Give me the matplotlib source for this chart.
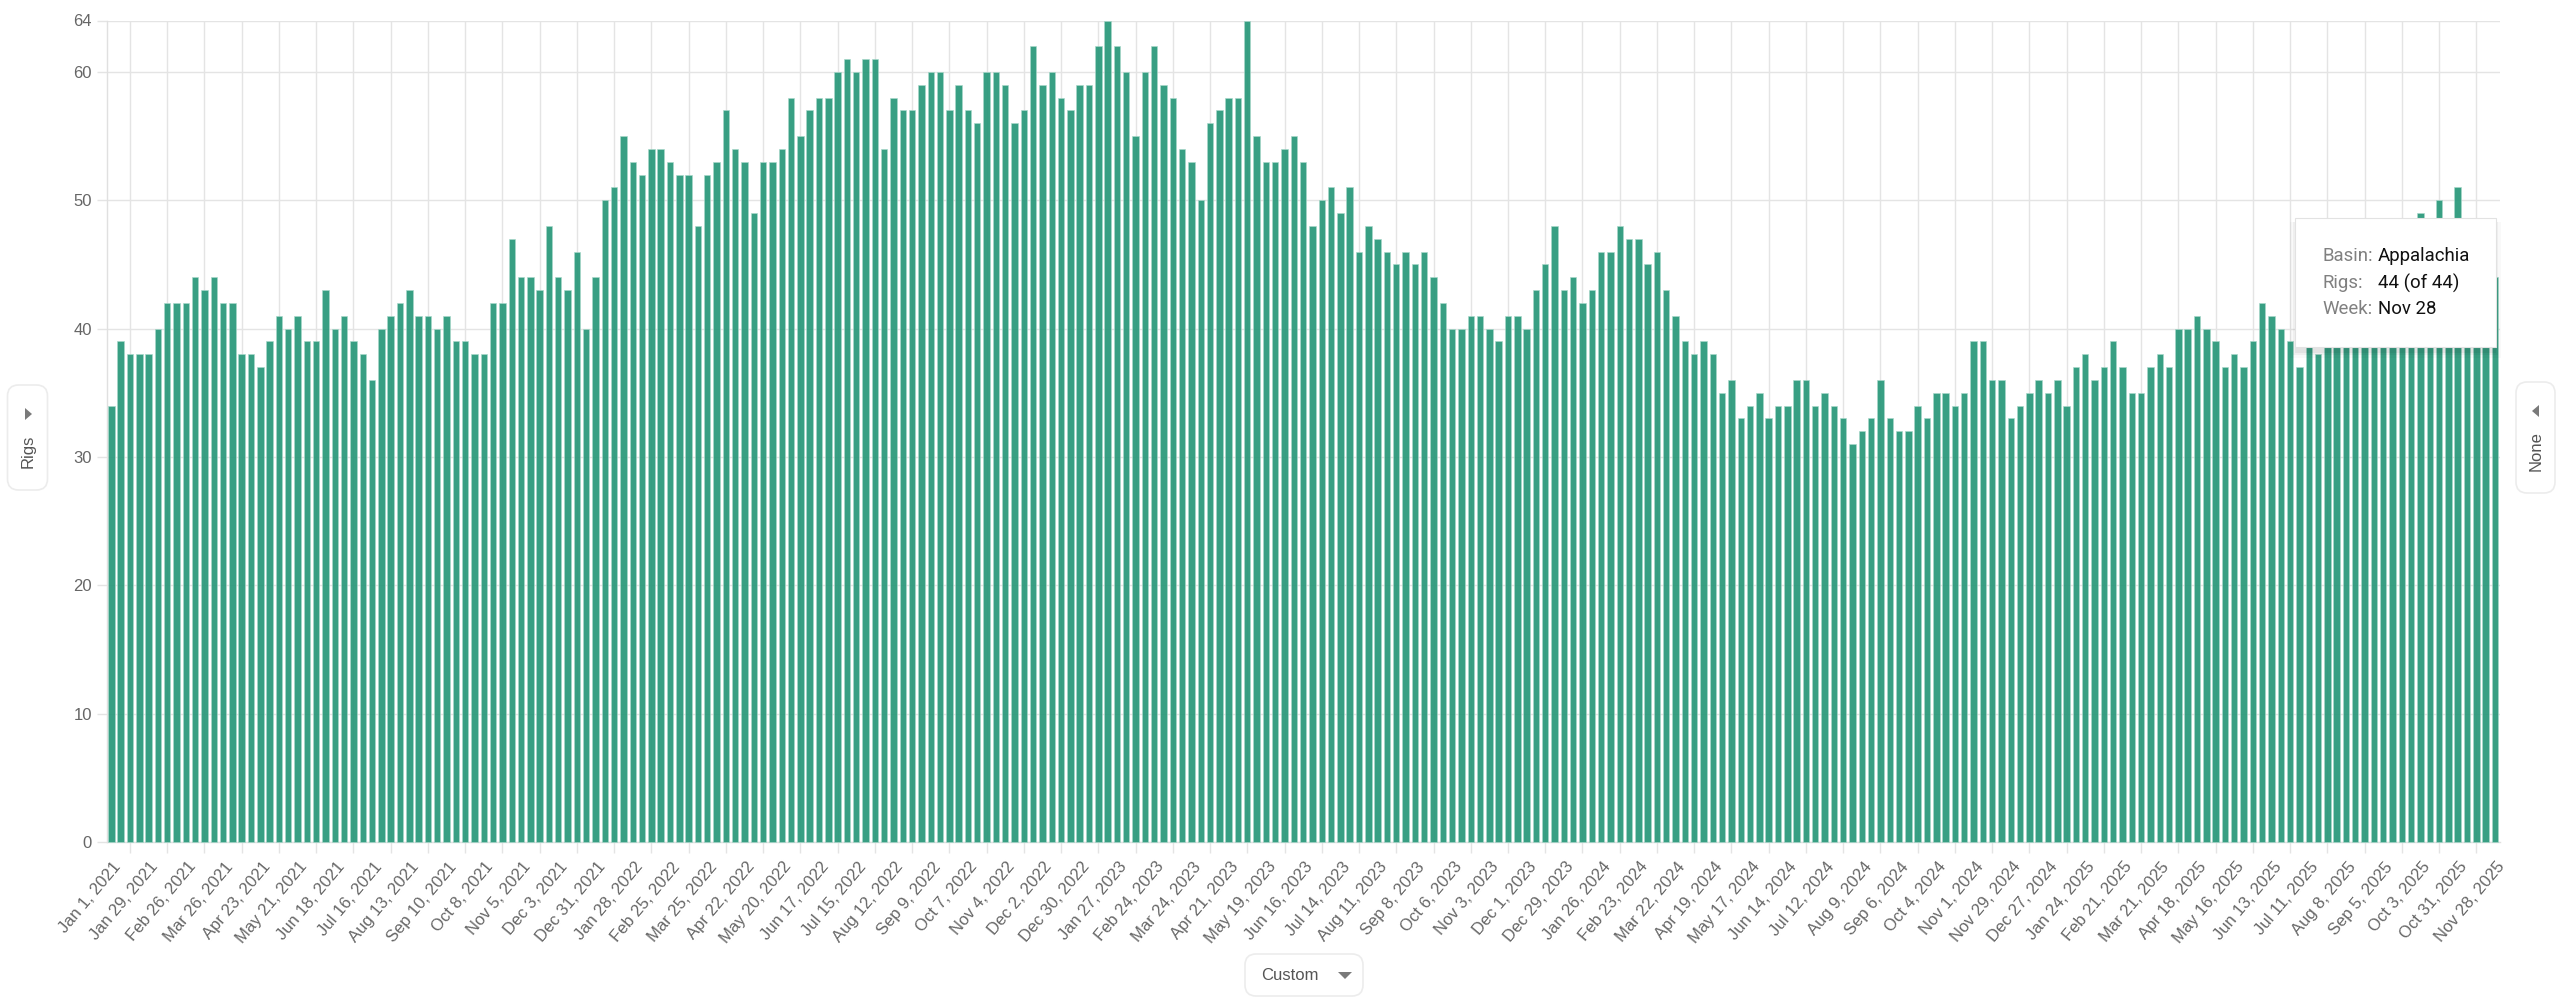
"""
Appalachia rig count by week, Jan 2021 - Nov 2025
"""
import matplotlib
matplotlib.use("Agg")
import matplotlib.pyplot as plt
from matplotlib.patches import FancyBboxPatch, Polygon, Rectangle
from matplotlib.transforms import ScaledTranslation

# weekly rigs (tops hidden by the tooltip are estimates)
rigs_2021 = [34, 39, 38, 38, 38, 40, 42, 42, 42, 44, 43, 44, 42, 42, 38, 38, 37, 39,
             41, 40, 41, 39, 39, 43, 40, 41, 39, 38, 36, 40, 41, 42, 43, 41, 41, 40,
             41, 39, 39, 38, 38, 42, 42, 47, 44, 44, 43, 48, 44, 43, 46, 40]
rigs_2022 = [44, 50, 51, 55, 53, 52, 54, 54, 53, 52, 52, 48, 52, 53, 57, 54, 53, 49,
             53, 53, 54, 58, 55, 57, 58, 58, 60, 61, 60, 61, 61, 54, 58, 57, 57, 59,
             60, 60, 57, 59, 57, 56, 60, 60, 59, 56, 57, 62, 59, 60, 58, 57, 59]
rigs_2023 = [59, 62, 64, 62, 60, 55, 60, 62, 59, 58, 54, 53, 50, 56, 57, 58, 58, 64,
             55, 53, 53, 54, 55, 53, 48, 50, 51, 49, 51, 46, 48, 47, 46, 45, 46, 45,
             46, 44, 42, 40, 40, 41, 41, 40, 39, 41, 41, 40, 43, 45, 48, 43]
rigs_2024 = [44, 42, 43, 46, 46, 48, 47, 47, 45, 46, 43, 41, 39, 38, 39, 38, 35, 36,
             33, 34, 35, 33, 34, 34, 36, 36, 34, 35, 34, 33, 31, 32, 33, 36, 33, 32,
             32, 34, 33, 35, 35, 34, 35, 39, 39, 36, 36, 33, 34, 35, 36, 35, 36]
rigs_2025 = [34, 37, 38, 36, 37, 39, 37, 35, 35, 37, 38, 37, 40, 40, 41, 40, 39, 37,
             38, 37, 39, 42, 41, 40, 39, 37, 39, 38, 40, 41, 42, 43, 44, 44, 45, 46,
             47, 48, 49, 47, 50, 47, 51, 47, 46, 45, 44]
rigs = rigs_2021 + rigs_2022 + rigs_2023 + rigs_2024 + rigs_2025

week_labels = [
    "Jan 1, 2021", "Jan 29, 2021", "Feb 26, 2021", "Mar 26, 2021", "Apr 23, 2021",
    "May 21, 2021", "Jun 18, 2021", "Jul 16, 2021", "Aug 13, 2021", "Sep 10, 2021",
    "Oct 8, 2021", "Nov 5, 2021", "Dec 3, 2021", "Dec 31, 2021", "Jan 28, 2022",
    "Feb 25, 2022", "Mar 25, 2022", "Apr 22, 2022", "May 20, 2022", "Jun 17, 2022",
    "Jul 15, 2022", "Aug 12, 2022", "Sep 9, 2022", "Oct 7, 2022", "Nov 4, 2022",
    "Dec 2, 2022", "Dec 30, 2022", "Jan 27, 2023", "Feb 24, 2023", "Mar 24, 2023",
    "Apr 21, 2023", "May 19, 2023", "Jun 16, 2023", "Jul 14, 2023", "Aug 11, 2023",
    "Sep 8, 2023", "Oct 6, 2023", "Nov 3, 2023", "Dec 1, 2023", "Dec 29, 2023",
    "Jan 26, 2024", "Feb 23, 2024", "Mar 22, 2024", "Apr 19, 2024", "May 17, 2024",
    "Jun 14, 2024", "Jul 12, 2024", "Aug 9, 2024", "Sep 6, 2024", "Oct 4, 2024",
    "Nov 1, 2024", "Nov 29, 2024", "Dec 27, 2024", "Jan 24, 2025", "Feb 21, 2025",
    "Mar 21, 2025", "Apr 18, 2025", "May 16, 2025", "Jun 13, 2025", "Jul 11, 2025",
    "Aug 8, 2025", "Sep 5, 2025", "Oct 3, 2025", "Oct 31, 2025", "Nov 28, 2025",
]
y_ticks = [0, 10, 20, 30, 40, 50, 60, 64]

W, H = 2560, 1001
GRID = "#e4e4e4"
TICK_TEXT = "#666666"

plt.rcParams["font.family"] = ["Liberation Sans", "DejaVu Sans"]

fig = plt.figure(figsize=(W / 100, H / 100), dpi=100, facecolor="white")
ax = fig.add_axes([106.7 / W, 1 - 842 / H, (2499.6 - 106.7) / W, (842 - 20.5) / H])

# ── Bars ─────────────────────────────────────────────────────────────────────
x = list(range(len(rigs)))
ax.bar(x, rigs, width=0.69, color="#29987a", alpha=0.93, edgecolor="#a8d8ca",
       linewidth=0.5, zorder=3, clip_on=False)
ax.set_xlim(-0.5, len(rigs) - 0.5)
ax.set_ylim(0, 64)

# ── Axes: date labels sit on the bars, ticks and grid between them ───────────
ax.set_yticks(y_ticks)
ax.set_xticks(range(0, len(rigs), 4), week_labels, rotation=50, ha="right",
              va="center", rotation_mode="anchor", fontsize=12, color=TICK_TEXT)
ax.set_xticks(range(2, len(rigs), 4), minor=True)
ax.tick_params(axis="x", which="major", length=0, pad=0)
ax.tick_params(axis="x", which="minor", length=8, width=1.0, color=GRID)
ax.tick_params(axis="y", length=7.5, width=1.0, color=GRID, labelsize=12,
               labelcolor=TICK_TEXT, pad=3)
# tick_params resets label transforms, so shift the labels after it
offset = ScaledTranslation(7 / 100, -22 / 100, fig.dpi_scale_trans)
for lab in ax.get_xticklabels():
    lab.set_transform(lab.get_transform() + offset)
ax.grid(True, axis="y", color=GRID, lw=1.0, zorder=1)
ax.grid(True, axis="x", which="minor", color=GRID, lw=1.0, zorder=1)
ax.set_axisbelow(True)
for side in ["top", "right"]:
    ax.spines[side].set_visible(False)
for side in ["left", "bottom"]:
    ax.spines[side].set_color("#e0e0e0")
    ax.spines[side].set_linewidth(1.0)

# ── Overlay in pixel coordinates: tooltip and the three axis buttons ─────────
ov = fig.add_axes([0, 0, 1, 1], zorder=5)
ov.set_xlim(0, W)
ov.set_ylim(H, 0)
ov.axis("off")


def pill(x0, y0, x1, y1, radius=11):
    ov.add_patch(FancyBboxPatch((x0 + radius, y0 + radius), x1 - x0 - 2 * radius,
                                y1 - y0 - 2 * radius,
                                boxstyle=f"round,pad={radius},rounding_size={radius}",
                                fc="white", ec="#ececec", lw=1.2))


pill(7.5, 385, 47.5, 490)
ov.add_patch(Polygon([(25, 408), (25, 420), (32, 414)], fc="#7a7a7a", ec="none"))
ov.text(28, 451, "Rigs", rotation=90, ha="center", va="center", fontsize=12, color="#555555")

pill(2516, 382, 2555, 493)
ov.add_patch(Polygon([(2539, 405), (2539, 417), (2532, 411)], fc="#7a7a7a", ec="none"))
ov.text(2536, 451, "None", rotation=90, ha="center", va="center", fontsize=12, color="#555555")

pill(1245, 954, 1363, 996)
ov.add_patch(Polygon([(1338, 972), (1352, 972), (1345, 979)], fc="#7a7a7a", ec="none"))
ov.text(1290, 975, "Custom", ha="center", va="center", fontsize=12, color="#555555")

# tooltip, soft shadow mostly falling below the box
for grow, a in [(7, 0.025), (4, 0.04), (2, 0.05)]:
    ov.add_patch(Rectangle((2295 - grow + 2, 218 + 4), 201 + 2 * grow - 4, 129 + grow,
                           fc="black", ec="none", alpha=a))
ov.add_patch(Rectangle((2295, 218), 201, 129, fc="white", ec="#e2e2e2", lw=0.8))
for row_y, key, val in [(256, "Basin:", "Appalachia"), (283, "Rigs:", "44 (of 44)"), (309, "Week:", "Nov 28")]:
    ov.text(2322, row_y, key, ha="left", va="center", fontsize=13.4, color="#808080", family="Roboto")
    ov.text(2378, row_y, val, ha="left", va="center", fontsize=13.4, color="#111111", family="Roboto")

fig.savefig("out.png", dpi=100)
